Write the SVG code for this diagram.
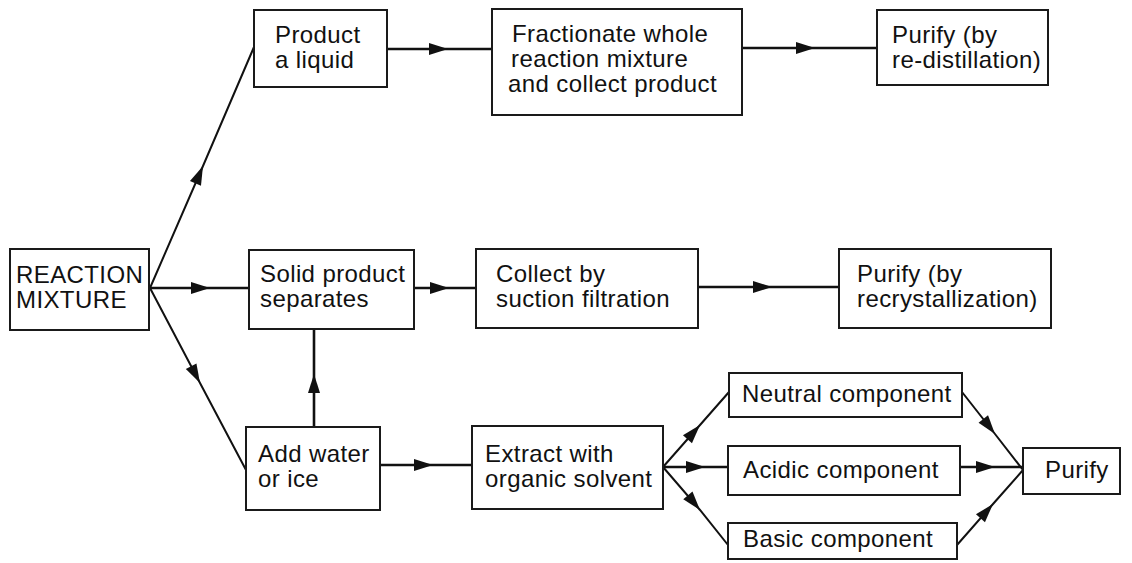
<svg xmlns="http://www.w3.org/2000/svg" width="1132" height="563" viewBox="0 0 1132 563">
<style>
  .box { fill: #fff; stroke: #1a1a1a; stroke-width: 2; }
  .t { font-family: "Liberation Sans", Arial, sans-serif; font-size: 24px; letter-spacing: 0.4px; fill: #111; }
  .c { fill: none; stroke: #111; stroke-width: 2.6; marker-mid: url(#ah); }
  .d { fill: none; stroke: #111; stroke-width: 2; marker-mid: url(#ah); }
</style>
<defs>
  <marker id="ah" markerUnits="userSpaceOnUse" markerWidth="24" markerHeight="14" viewBox="-20 -7 22 14" refX="0" refY="0" orient="auto">
    <path d="M0,0 L-19,-6 L-19,6 Z" fill="#111"/>
  </marker>
</defs>
<rect width="1132" height="563" fill="#fff"/>
<g id="connectors">
  <path class="d" d="M150,288 L203,166 L254,47"/>
  <path class="c" d="M149,288 L210,288 L249,288"/>
  <path class="d" d="M150,288 L200,383 L246,470"/>
  <path class="c" d="M314,427 L314,374 L314,329"/>
  <path class="c" d="M387,49 L448,49 L492,49"/>
  <path class="c" d="M742,48 L815,48 L877,48"/>
  <path class="c" d="M414,288 L449,288 L476,288"/>
  <path class="c" d="M698,287 L772,287 L839,287"/>
  <path class="c" d="M380,465 L433,465 L472,465"/>
  <path class="d" d="M663,467 L700,425 L729,392"/>
  <path class="c" d="M663,467 L705,467 L728,467"/>
  <path class="d" d="M663,467 L700,510 L728,545"/>
  <path class="d" d="M962,392 L995,434 L1023,470"/>
  <path class="c" d="M960,467 L995,467 L1023,467"/>
  <path class="d" d="M957,545 L993,504 L1023,470"/>
</g>
<g id="reaction-mixture">
  <rect class="box" x="10" y="249" width="139" height="81"/>
  <text class="t" x="16" y="283">REACTION</text>
  <text class="t" x="16" y="308">MIXTURE</text>
</g>
<g id="product-liquid">
  <rect class="box" x="254" y="10" width="133" height="77"/>
  <text class="t" x="275" y="43">Product</text>
  <text class="t" x="275" y="68">a liquid</text>
</g>
<g id="fractionate">
  <rect class="box" x="492" y="9" width="250" height="106"/>
  <text class="t" x="512" y="42">Fractionate whole</text>
  <text class="t" x="511" y="67">reaction mixture</text>
  <text class="t" x="508" y="92">and collect product</text>
</g>
<g id="purify-distill">
  <rect class="box" x="877" y="10" width="171" height="75"/>
  <text class="t" x="892" y="43">Purify (by</text>
  <text class="t" x="892" y="68">re-distillation)</text>
</g>
<g id="solid-product">
  <rect class="box" x="249" y="250" width="165" height="79"/>
  <text class="t" x="260" y="282">Solid product</text>
  <text class="t" x="260" y="307">separates</text>
</g>
<g id="collect">
  <rect class="box" x="476" y="249" width="222" height="79"/>
  <text class="t" x="496" y="282">Collect by</text>
  <text class="t" x="496" y="307">suction filtration</text>
</g>
<g id="purify-recryst">
  <rect class="box" x="839" y="249" width="212" height="79"/>
  <text class="t" x="857" y="282">Purify (by</text>
  <text class="t" x="857" y="307">recrystallization)</text>
</g>
<g id="add-water">
  <rect class="box" x="246" y="427" width="134" height="83"/>
  <text class="t" x="258" y="462">Add water</text>
  <text class="t" x="258" y="487">or ice</text>
</g>
<g id="extract">
  <rect class="box" x="472" y="426" width="191" height="83"/>
  <text class="t" x="485" y="462">Extract with</text>
  <text class="t" x="485" y="487">organic solvent</text>
</g>
<g id="neutral">
  <rect class="box" x="729" y="373" width="233" height="44"/>
  <text class="t" x="742" y="402">Neutral component</text>
</g>
<g id="acidic">
  <rect class="box" x="728" y="446" width="232" height="49"/>
  <text class="t" x="743" y="478">Acidic component</text>
</g>
<g id="basic">
  <rect class="box" x="728" y="523" width="229" height="36"/>
  <text class="t" x="743" y="547">Basic component</text>
</g>
<g id="purify-final">
  <rect class="box" x="1023" y="448" width="97" height="46"/>
  <text class="t" x="1045" y="478">Purify</text>
</g>
</svg>
